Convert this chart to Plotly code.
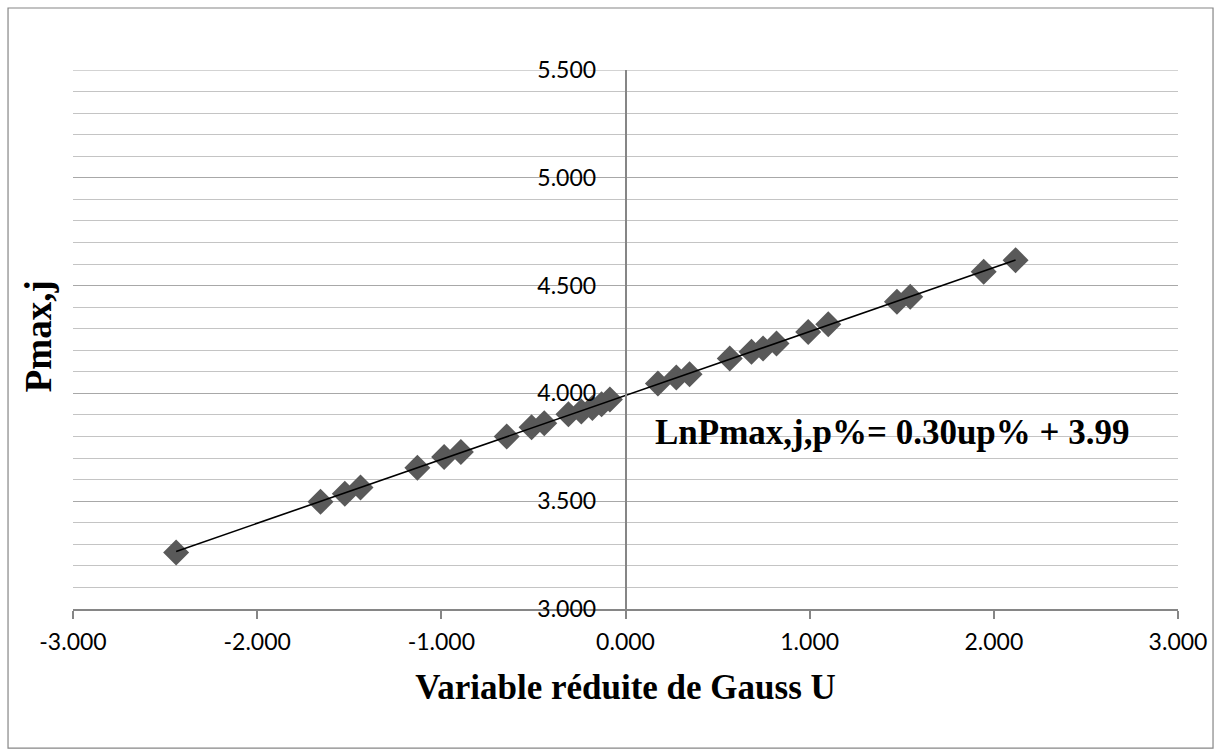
import numpy as np
import plotly.graph_objects as go

# Data
u_values = [-2.440, -1.656, -1.524, -1.439, -1.130, -0.985, -0.894, -0.645,
            -0.510, -0.441, -0.310, -0.240, -0.180, -0.130, -0.085,
            0.176, 0.276, 0.348, 0.566, 0.684, 0.747, 0.820, 0.992, 1.101,
            1.474, 1.546, 1.945, 2.118]
ln_pmax = [3.262, 3.497, 3.535, 3.563, 3.655, 3.705, 3.728, 3.800,
           3.843, 3.861, 3.903, 3.916, 3.932, 3.950, 3.972,
           4.046, 4.074, 4.089, 4.162, 4.193, 4.208, 4.232, 4.285, 4.321,
           4.425, 4.448, 4.564, 4.618]

x_tickvals = [-3, -2, -1, 0, 1, 2, 3]
x_ticktext = ["-3.000", "-2.000", "-1.000", "0.000", "1.000", "2.000", "3.000"]
y_tickvals = [3.0, 3.5, 4.0, 4.5, 5.0, 5.5]
y_ticktext = ["3.000", "3.500", "4.000", "4.500", "5.000", "5.500"]

equation_text = "LnPmax,j,p%= 0.30up% + 3.99"
x_title = "Variable réduite de Gauss U"
y_title = "Pmax,j"

# Linear trend from the data
slope, intercept = np.polyfit(u_values, ln_pmax, 1)
trend_x = [min(u_values), max(u_values)]
trend_y = [slope * v + intercept for v in trend_x]

AXIS_GRAY = "#868686"
MAJOR_GRID = "#a8a8a8"
MINOR_GRID = "#c4c4c4"
SERIF = "Liberation Serif, Times New Roman, serif"

fig = go.Figure()
fig.add_trace(go.Scatter(
    x=u_values, y=ln_pmax, mode="markers",
    marker=dict(symbol="diamond", size=20, color="#595959",
                line=dict(width=0)),
    showlegend=False, hoverinfo="skip"))
fig.add_trace(go.Scatter(
    x=trend_x, y=trend_y, mode="lines",
    line=dict(color="black", width=1.6),
    showlegend=False, hoverinfo="skip"))

fig.update_layout(
    width=1220, height=756,
    margin=dict(l=73, r=42, t=70, b=147),
    paper_bgcolor="white", plot_bgcolor="white",
    font=dict(family="Lato, sans-serif", color="black"),
    xaxis=dict(
        range=[-3, 3], tickvals=x_tickvals, ticktext=x_ticktext,
        showgrid=False, zeroline=False,
        showline=True, linecolor=AXIS_GRAY, linewidth=1.5,
        ticks="outside", ticklen=8, tickcolor=AXIS_GRAY, tickwidth=1.5,
        tickfont=dict(size=23, family="Lato, sans-serif", color="black"),
        ticklabelstandoff=4,
        title=dict(text="<b>" + x_title + "</b>", standoff=20,
                   font=dict(family=SERIF, size=35, color="black")),
    ),
    yaxis=dict(
        range=[3, 5.5], tickvals=y_tickvals, ticktext=y_ticktext,
        anchor="free", position=0.5,
        showgrid=True, gridcolor=MAJOR_GRID, gridwidth=1.2,
        minor=dict(dtick=0.1, tick0=3.0, showgrid=True,
                   gridcolor=MINOR_GRID, gridwidth=1.2, ticks=""),
        zeroline=False,
        showline=True, linecolor=AXIS_GRAY, linewidth=1.5,
        ticks="",
        tickfont=dict(size=23, family="Lato, sans-serif", color="black"),
        ticklabelstandoff=24,
    ),
    annotations=[
        dict(text="<b>" + equation_text + "</b>", x=0.147, y=3.82,
             xref="x", yref="y", xanchor="left", yanchor="middle",
             showarrow=False,
             font=dict(family=SERIF, size=35, color="black")),
        dict(text="<b>" + y_title + "</b>", x=-0.0317, y=0.506,
             xref="paper", yref="paper", xanchor="center", yanchor="middle",
             textangle=-90, showarrow=False,
             font=dict(family=SERIF, size=37, color="black")),
    ],
    shapes=[
        dict(type="rect", xref="paper", yref="paper",
             x0=-0.0588, x1=1.0317, y0=-0.258, y1=1.115,
             line=dict(color=AXIS_GRAY, width=1.2), layer="below"),
        dict(type="line", xref="paper", yref="y", x0=0, x1=1,
             y0=y_tickvals[-1], y1=y_tickvals[-1],
             line=dict(color=MAJOR_GRID, width=1.2), layer="below"),
    ],
)

fig.write_html("out.html")
